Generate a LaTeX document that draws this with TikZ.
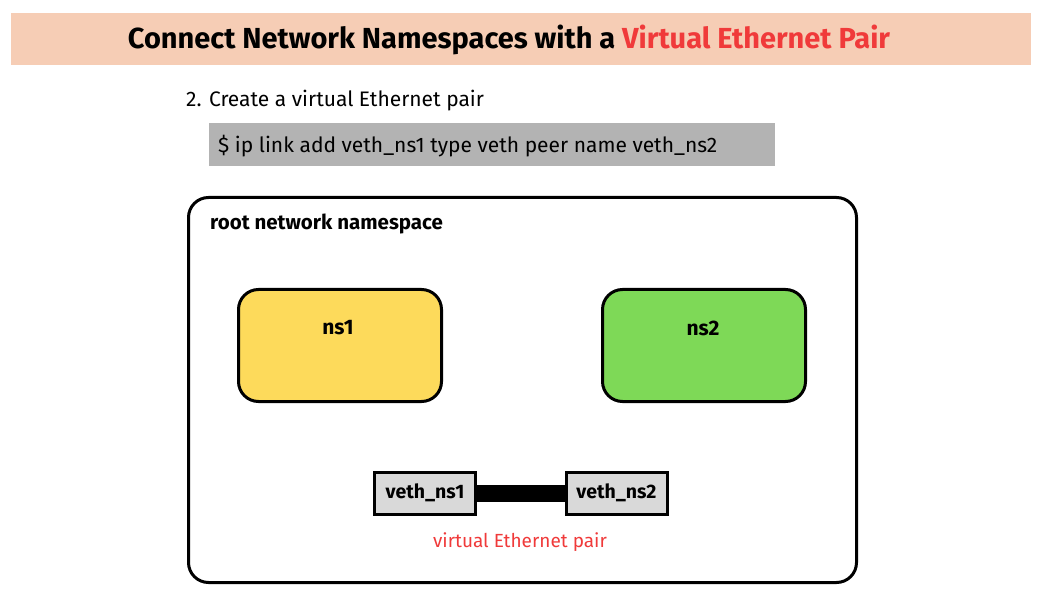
\documentclass[tikz,border=0pt]{standalone}
\usepackage{fontspec}
\setmainfont{Fira Sans}
\definecolor{band}{HTML}{F6CDB5}
\definecolor{tred}{HTML}{F03A3A}
\definecolor{cmdgrey}{HTML}{B3B3B3}
\definecolor{nsyellow}{HTML}{FDDA5B}
\definecolor{nsgreen}{HTML}{7ED957}
\definecolor{vethgrey}{HTML}{D9D9D9}
\tikzset{
  nsbox/.style={draw=black, line width=3pt, rounded corners=20pt, minimum width=203pt, minimum height=112pt, anchor=north west},
  vethbox/.style={draw=black, line width=3pt, fill=vethgrey, minimum width=101pt, minimum height=42pt, inner sep=0pt, font=\fontsize{19.5}{22}\selectfont\bfseries},
  lbl/.style={inner sep=0pt},
}
\begin{document}
\begin{tikzpicture}[x=1pt,y=-1pt]
\useasboundingbox (0,0) rectangle (1043,593);
\fill[white] (0,0) rectangle (1043,593);
% title band
\node[fill=band, minimum width=1020pt, minimum height=52pt, inner sep=0pt, anchor=north west] (band) at (11,13) {};
\node[lbl, font=\fontsize{29}{32}\selectfont\bfseries] (title) at (509,40) {Connect Network Namespaces with a \textcolor{tred}{Virtual Ethernet Pair}};
% step
\node[lbl, anchor=west, font=\fontsize{21}{24}\selectfont] (step) at (186,101) {2. Create a virtual Ethernet pair};
\node[fill=cmdgrey, minimum width=566pt, minimum height=43pt, inner sep=0pt, anchor=north west] (cmd) at (209,123) {};
\node[lbl, anchor=west, font=\fontsize{21}{24}\selectfont] (cmdtext) at (218,146) {\$ ip link add veth\_ns1 type veth peer name veth\_ns2};
% root namespace
\node[draw=black, line width=3pt, rounded corners=20pt, minimum width=668pt, minimum height=385pt, anchor=north west] (root) at (187,196) {};
\node[lbl, anchor=west, font=\fontsize{20.5}{24}\selectfont\bfseries] (rootlbl) at (210,224) {root network namespace};
% namespaces
\node[nsbox, fill=nsyellow] (ns1) at (237,288) {};
\node[lbl, font=\fontsize{21}{24}\selectfont\bfseries] at (338,328) {ns1};
\node[nsbox, fill=nsgreen] (ns2) at (601,288) {};
\node[lbl, font=\fontsize{21}{24}\selectfont\bfseries] at (703,328) {ns2};
% veth pair
\node[vethbox] (v1) at (425,493) {veth\_ns1};
\node[vethbox] (v2) at (616.5,493) {veth\_ns2};
\draw[line width=17pt] (v1.east) -- (v2.west);
\node[lbl, text=tred, font=\fontsize{19}{22}\selectfont] (pairlbl) at (520,542) {virtual Ethernet pair};
\end{tikzpicture}
\end{document}
